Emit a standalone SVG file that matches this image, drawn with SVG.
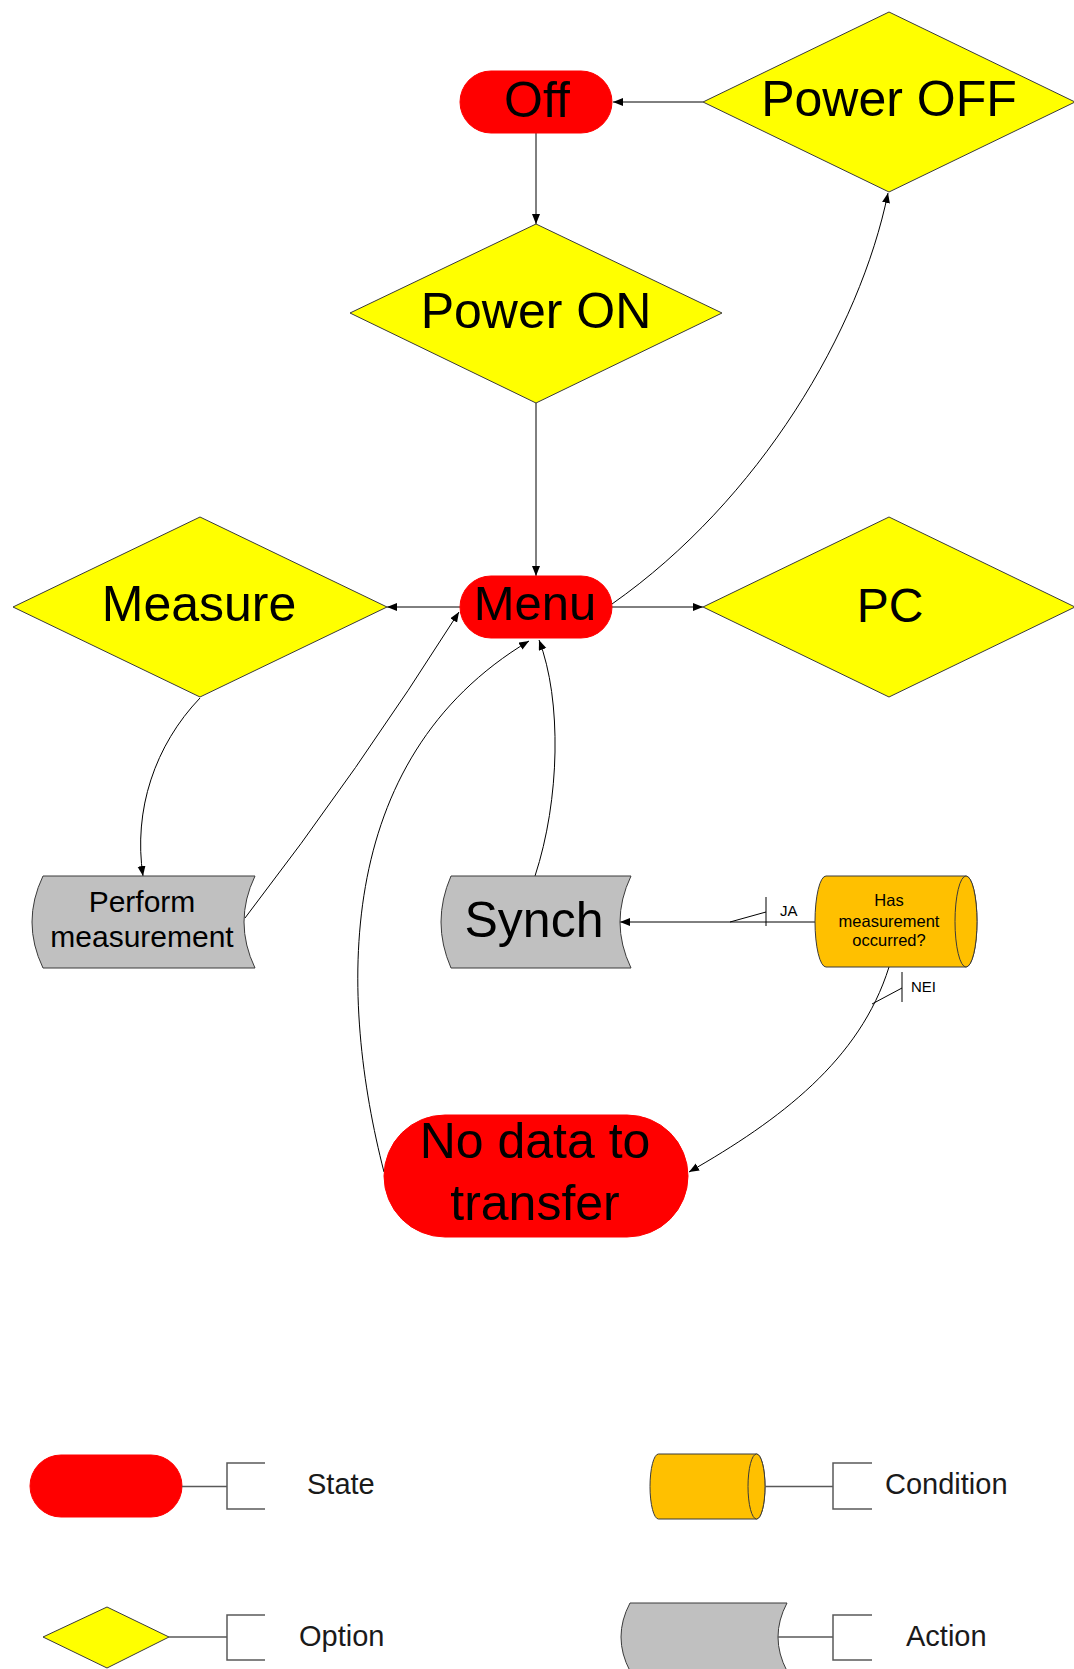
<svg xmlns="http://www.w3.org/2000/svg" width="1074" height="1669" viewBox="0 0 1074 1669">
<style>
.bg{fill:#ffffff}
.state{fill:#ff0000;stroke:#ff0000;stroke-width:1}
.option{fill:#ffff00;stroke:#3a3a3a;stroke-width:1}
.cond{fill:#ffc000;stroke:#3a3a3a;stroke-width:1}
.action{fill:#c0c0c0;stroke:#3a3a3a;stroke-width:1}
.conn{fill:none;stroke:#000000;stroke-width:1}
.tick{fill:none;stroke:#000000;stroke-width:1}
.leg{fill:none;stroke:#595959;stroke-width:1.5}
text{font-family:"Liberation Sans",Arial,sans-serif;fill:#000000;text-anchor:middle}
.big{font-size:50px}
.mid{font-size:30px}
.small{font-size:16.5px}
.lbl{font-size:15px;text-anchor:start}
.legt{font-size:29px;text-anchor:start;fill:#1a1a1a}
</style>
<defs>
<marker id="arr" markerUnits="userSpaceOnUse" markerWidth="12" markerHeight="10" refX="10" refY="4" orient="auto">
<path d="M0,0 L10,4 L0,8 Z" fill="#000000"/>
</marker>
</defs>
<rect class="bg" x="0" y="0" width="1074" height="1669"/>

<g id="connectors">
<path class="conn" d="M703,102 L613,102" marker-end="url(#arr)"/>
<path class="conn" d="M536,133 L536,224" marker-end="url(#arr)"/>
<path class="conn" d="M536,403 L536,576" marker-end="url(#arr)"/>
<path class="conn" d="M460,607 L387,607" marker-end="url(#arr)"/>
<path class="conn" d="M612,607 L703,607" marker-end="url(#arr)"/>
<path class="conn" d="M612,604 C760,500 860,330 888,193" marker-end="url(#arr)"/>
<path class="conn" d="M200,698 C155,745 133,810 143,876" marker-end="url(#arr)"/>
<path class="conn" d="M245,918 Q359,770 459,612" marker-end="url(#arr)"/>
<path class="conn" d="M535,876 C560,800 562,700 539,640" marker-end="url(#arr)"/>
<path class="conn" d="M384,1172 C340,1000 330,760 529,641" marker-end="url(#arr)"/>
<path class="conn" d="M815,922 L620,922" marker-end="url(#arr)"/>
<path class="tick" d="M766,897 L766,926 M730,922 L766,912"/>
<text class="lbl" x="780" y="916">JA</text>
<path class="conn" d="M889,967 C860,1060 780,1120 689,1172" marker-end="url(#arr)"/>
<path class="tick" d="M902,972 L902,1002 M872,1004 L902,988"/>
<text class="lbl" x="911" y="992">NEI</text>
</g>

<g id="node-off">
<rect class="state" x="460" y="71" width="152" height="62" rx="31" ry="31"/>
<text class="big" x="537" y="117">Off</text>
</g>

<g id="node-power-off">
<polygon class="option" points="703,102 889,12 1075,102 889,192"/>
<text class="big" x="889" y="116">Power OFF</text>
</g>

<g id="node-power-on">
<polygon class="option" points="350,313 536,224 722,313 536,403"/>
<text class="big" x="536" y="328">Power ON</text>
</g>

<g id="node-measure">
<polygon class="option" points="13,607 200,517 387,607 200,697"/>
<text class="big" x="199" y="621">Measure</text>
</g>

<g id="node-menu">
<rect class="state" x="460" y="576" width="152" height="62" rx="31" ry="31"/>
<text class="big" x="535" y="620" style="font-size:49px">Menu</text>
</g>

<g id="node-pc">
<polygon class="option" points="703,607 889,517 1075,607 889,697"/>
<text class="big" x="890" y="622" style="font-size:48px">PC</text>
</g>

<g id="node-perform">
<path class="action" d="M43,876 L255,876 Q233,922 255,968 L43,968 Q21,922 43,876 Z"/>
<text class="mid" x="142" y="912">Perform</text>
<text class="mid" x="142" y="947">measurement</text>
</g>

<g id="node-synch">
<path class="action" d="M451,876 L631,876 Q609,922 631,968 L451,968 Q431,922 451,876 Z"/>
<text class="big" x="534" y="937">Synch</text>
</g>

<g id="node-condition">
<path class="cond" d="M826,876 L966,876 A11,45.5 0 0 1 966,967 L826,967 A11,45.5 0 0 1 826,876 Z"/>
<ellipse class="cond" cx="966" cy="921.5" rx="11" ry="45.5"/>
<text class="small" x="889" y="906">Has</text>
<text class="small" x="889" y="927">measurement</text>
<text class="small" x="889" y="946">occurred?</text>
</g>

<g id="node-nodata">
<rect class="state" x="384" y="1115" width="304" height="122" rx="61" ry="61"/>
<text class="big" x="535" y="1158">No data to</text>
<text class="big" x="535" y="1220">transfer</text>
</g>

<g id="legend">
<rect class="state" x="30" y="1455" width="152" height="62" rx="31" ry="31"/>
<path class="leg" d="M182,1486.5 L227,1486.5 M265,1463 L227,1463 L227,1509 L265,1509"/>
<text class="legt" x="307" y="1494">State</text>

<polygon class="option" points="43,1637 107,1607 169,1637 107,1668"/>
<path class="leg" d="M169,1637 L227,1637 M265,1615 L227,1615 L227,1660 L265,1660"/>
<text class="legt" x="299" y="1646">Option</text>

<path class="cond" d="M658.5,1454 L756.5,1454 A8.5,32.5 0 0 1 756.5,1519 L658.5,1519 A8.5,32.5 0 0 1 658.5,1454 Z"/>
<ellipse class="cond" cx="756.5" cy="1486.5" rx="8.5" ry="32.5"/>
<path class="leg" d="M765,1486.5 L833,1486.5 M872,1463 L833,1463 L833,1509 L872,1509"/>
<text class="legt" x="885" y="1494">Condition</text>

<path class="action" d="M630,1603 L787,1603 Q769,1637 787,1671 L630,1671 Q612,1637 630,1603 Z"/>
<path class="leg" d="M778,1637 L833,1637 M872,1615 L833,1615 L833,1660 L872,1660"/>
<text class="legt" x="906" y="1646">Action</text>
</g>
</svg>
